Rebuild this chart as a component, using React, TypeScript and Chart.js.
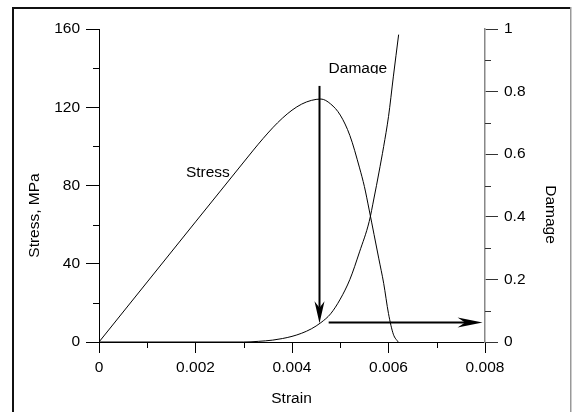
import React, { useEffect, useRef } from "react";
import { Chart, registerables } from "chart.js";

Chart.register(...registerables);

// ---- axis ticks ----
const strainTicks = [0, 0.002, 0.004, 0.006, 0.008];
const strainTickLabels = ["0", "0.002", "0.004", "0.006", "0.008"];
const strainMinor = [0.001, 0.003, 0.005, 0.007];
const stressTicks = [0, 40, 80, 120, 160];
const stressTickLabels = ["0", "40", "80", "120", "160"];
const stressMinor = [20, 60, 100, 140];
const damageTicks = [0, 0.2, 0.4, 0.6, 0.8, 1];
const damageTickLabels = ["0", "0.2", "0.4", "0.6", "0.8", "1"];
const damageMinor = [0.1, 0.3, 0.5, 0.7, 0.9];

// ---- series ----
const stressStrain = [0, 0.001, 0.002, 0.0025, 0.003, 0.0032, 0.0034, 0.0036, 0.0038, 0.004, 0.0042, 0.0044, 0.0046, 0.0048, 0.005, 0.0052, 0.0054, 0.0055, 0.0056, 0.0057, 0.0058, 0.0059, 0.006, 0.0061, 0.0062];
const stressValues = [0, 30.7, 61.4, 76.7, 92, 98.1, 104, 109.5, 114.4, 118.5, 121.6, 123.5, 124.2, 121.7, 116, 105.5, 89, 79.5, 67.5, 55, 42.5, 30, 14.5, 4, 0];

const damageStrain = [0, 0.003, 0.0033, 0.0036, 0.0038, 0.004, 0.0042, 0.0044, 0.0046, 0.0048, 0.005, 0.0052, 0.0054, 0.0056, 0.0057, 0.0058, 0.0059, 0.006, 0.0061, 0.00621];
const damageValues = [0, 0, 0.002, 0.006, 0.011, 0.018, 0.028, 0.042, 0.062, 0.09, 0.137, 0.2, 0.288, 0.385, 0.46, 0.54, 0.625, 0.72, 0.847, 0.982];

// ---- annotations ----
const arrowDown = { strain: 0.00457, fromStress: 130.9, toDamage: 0.06 };
const arrowRight = { damage: 0.062, fromStrain: 0.00476, toStrain: 0.00795 };
const stressLabel = { text: "Stress", strain: 0.002256, stress: 84.6 };
const damageLabel = { text: "Damage", strain: 0.005365, damage: 0.859 };
const xTitle = "Strain";
const yTitle = "Stress, MPa";
const y2Title = "Damage";

const FONT = "'Liberation Sans', Arial, sans-serif";
const FS = 15.5;

function arrowHead(ctx: CanvasRenderingContext2D, tx: number, ty: number, dx: number, dy: number, L: number, W: number) {
  const px = -dy, py = dx;
  ctx.beginPath();
  ctx.moveTo(tx, ty);
  ctx.lineTo(tx - dx * L + px * W, ty - dy * L + py * W);
  ctx.lineTo(tx - dx * L * 0.7, ty - dy * L * 0.7);
  ctx.lineTo(tx - dx * L - px * W, ty - dy * L - py * W);
  ctx.closePath();
  ctx.fill();
}

const decorPlugin = {
  id: "decor",
  beforeDraw(chart: any) {
    const ctx = chart.ctx as CanvasRenderingContext2D;
    ctx.save();
    ctx.fillStyle = "#ffffff";
    ctx.fillRect(0, 0, chart.width, chart.height);
    // frame
    ctx.fillStyle = "#111111";
    ctx.fillRect(12, 7, 558, 2);
    ctx.fillRect(12, 7, 2, chart.height - 7);
    ctx.fillStyle = "#999999";
    ctx.fillRect(570, 7, 1.5, chart.height - 7);
    ctx.restore();
  },
  afterDraw(chart: any) {
    const ctx = chart.ctx as CanvasRenderingContext2D;
    const x = chart.scales.x, y = chart.scales.y, y2 = chart.scales.y2;
    ctx.save();
    // minor ticks
    ctx.lineWidth = 1;
    ctx.strokeStyle = "#000000";
    ctx.beginPath();
    strainMinor.forEach((v) => {
      const px = Math.round(x.getPixelForValue(v)) + 0.5;
      ctx.moveTo(px, y.bottom);
      ctx.lineTo(px, y.bottom + 6);
    });
    stressMinor.forEach((v) => {
      const py = Math.round(y.getPixelForValue(v)) + 0.5;
      ctx.moveTo(x.left, py);
      ctx.lineTo(x.left - 6, py);
    });
    ctx.stroke();
    ctx.strokeStyle = "#333333";
    ctx.beginPath();
    damageMinor.forEach((v) => {
      const py = Math.round(y2.getPixelForValue(v)) + 0.5;
      ctx.moveTo(x.right, py);
      ctx.lineTo(x.right + 6, py);
    });
    ctx.stroke();

    // arrows
    ctx.strokeStyle = "#000000";
    ctx.fillStyle = "#000000";
    ctx.lineWidth = 2;
    const ax = x.getPixelForValue(arrowDown.strain);
    const ay0 = y.getPixelForValue(arrowDown.fromStress);
    const ay1 = y2.getPixelForValue(arrowDown.toDamage);
    ctx.beginPath();
    ctx.moveTo(ax, ay0);
    ctx.lineTo(ax, ay1 - 22 * 0.7);
    ctx.stroke();
    arrowHead(ctx, ax, ay1, 0, 1, 22, 5);

    const hy = y2.getPixelForValue(arrowRight.damage);
    const hx0 = x.getPixelForValue(arrowRight.fromStrain);
    const hx1 = x.getPixelForValue(arrowRight.toStrain);
    ctx.beginPath();
    ctx.moveTo(hx0, hy);
    ctx.lineTo(hx1 - 25 * 0.7, hy);
    ctx.stroke();
    arrowHead(ctx, hx1, hy, 1, 0, 25, 5);

    // in-plot labels
    ctx.font = `${FS}px ${FONT}`;
    ctx.fillStyle = "#000000";
    ctx.textAlign = "center";
    ctx.textBaseline = "alphabetic";
    ctx.fillText(stressLabel.text, x.getPixelForValue(stressLabel.strain), y.getPixelForValue(stressLabel.stress));
    const dlx = x.getPixelForValue(damageLabel.strain);
    const dly = y2.getPixelForValue(damageLabel.damage);
    ctx.save();
    ctx.beginPath();
    ctx.rect(dlx - 60, dly - 30, 120, 30.5);
    ctx.clip();
    ctx.fillText(damageLabel.text, dlx, dly);
    ctx.restore();

    // axis titles
    ctx.textAlign = "center";
    ctx.textBaseline = "alphabetic";
    ctx.fillText(xTitle, (x.left + x.right) / 2 - 0.5, 402.5);
    ctx.save();
    ctx.translate(39, 215.5);
    ctx.rotate(-Math.PI / 2);
    ctx.fillText(yTitle, 0, 0);
    ctx.restore();
    ctx.save();
    ctx.translate(546, 214.5);
    ctx.rotate(Math.PI / 2);
    ctx.fillText(y2Title, 0, 0);
    ctx.restore();
    ctx.restore();
  },
};

export default function App() {
  const ref = useRef<HTMLCanvasElement | null>(null);
  useEffect(() => {
    if (!ref.current) return;
    const tickFont = { family: FONT, size: FS };
    const chart = new Chart(ref.current, {
      type: "line",
      data: {
        datasets: [
          {
            label: "Stress",
            data: stressStrain.map((s, i) => ({ x: s, y: stressValues[i] })),
            yAxisID: "y",
            borderColor: "#000000",
            borderWidth: 1,
            pointRadius: 0,
            fill: false,
            cubicInterpolationMode: "monotone",
          },
          {
            label: "Damage",
            data: damageStrain.map((s, i) => ({ x: s, y: damageValues[i] })),
            yAxisID: "y2",
            borderColor: "#000000",
            borderWidth: 1,
            pointRadius: 0,
            fill: false,
            cubicInterpolationMode: "monotone",
          },
        ],
      },
      options: {
        responsive: false,
        animation: false,
        layout: { padding: { top: 29, left: 0, right: 0, bottom: 0 } },
        plugins: { legend: { display: false }, tooltip: { enabled: false }, title: { display: false } },
        scales: {
          x: {
            type: "linear",
            min: 0,
            max: 0.008,
            afterBuildTicks: (s: any) => { s.ticks = strainTicks.map((v) => ({ value: v })); },
            afterFit: (s: any) => { s.height = 70; },
            ticks: {
              callback: (_v: any, i: number) => strainTickLabels[i],
              font: tickFont,
              color: "#000000",
              padding: 5,
              maxRotation: 0,
              autoSkip: false,
            },
            grid: { drawOnChartArea: false, drawTicks: true, tickLength: 11, color: "#000000", tickColor: "#000000" },
            border: { display: true, color: "#000000", width: 1 },
          },
          y: {
            type: "linear",
            position: "left",
            min: 0,
            max: 160,
            afterBuildTicks: (s: any) => { s.ticks = stressTicks.map((v) => ({ value: v })); },
            afterFit: (s: any) => { s.width = 99; },
            ticks: {
              callback: (_v: any, i: number) => stressTickLabels[i],
              font: tickFont,
              color: "#000000",
              padding: 6,
              autoSkip: false,
            },
            grid: { drawOnChartArea: false, drawTicks: true, tickLength: 13, color: "#000000", tickColor: "#000000" },
            border: { display: true, color: "#000000", width: 1 },
          },
          y2: {
            type: "linear",
            position: "right",
            min: 0,
            max: 1,
            afterBuildTicks: (s: any) => { s.ticks = damageTicks.map((v) => ({ value: v })); },
            afterFit: (s: any) => { s.width = 87; },
            ticks: {
              callback: (_v: any, i: number) => damageTickLabels[i],
              font: tickFont,
              color: "#000000",
              padding: 6,
              autoSkip: false,
            },
            grid: { drawOnChartArea: false, drawTicks: true, tickLength: 13, color: "#333333", tickColor: "#333333" },
            border: { display: true, color: "#888888", width: 1.5 },
          },
        },
      },
      plugins: [decorPlugin],
    } as any);
    return () => chart.destroy();
  }, []);
  return (
    <div style={{ position: "fixed", left: 0, top: 0, width: 572, height: 412 }}>
      <canvas ref={ref} width={572} height={412} style={{ display: "block" }} />
    </div>
  );
}
